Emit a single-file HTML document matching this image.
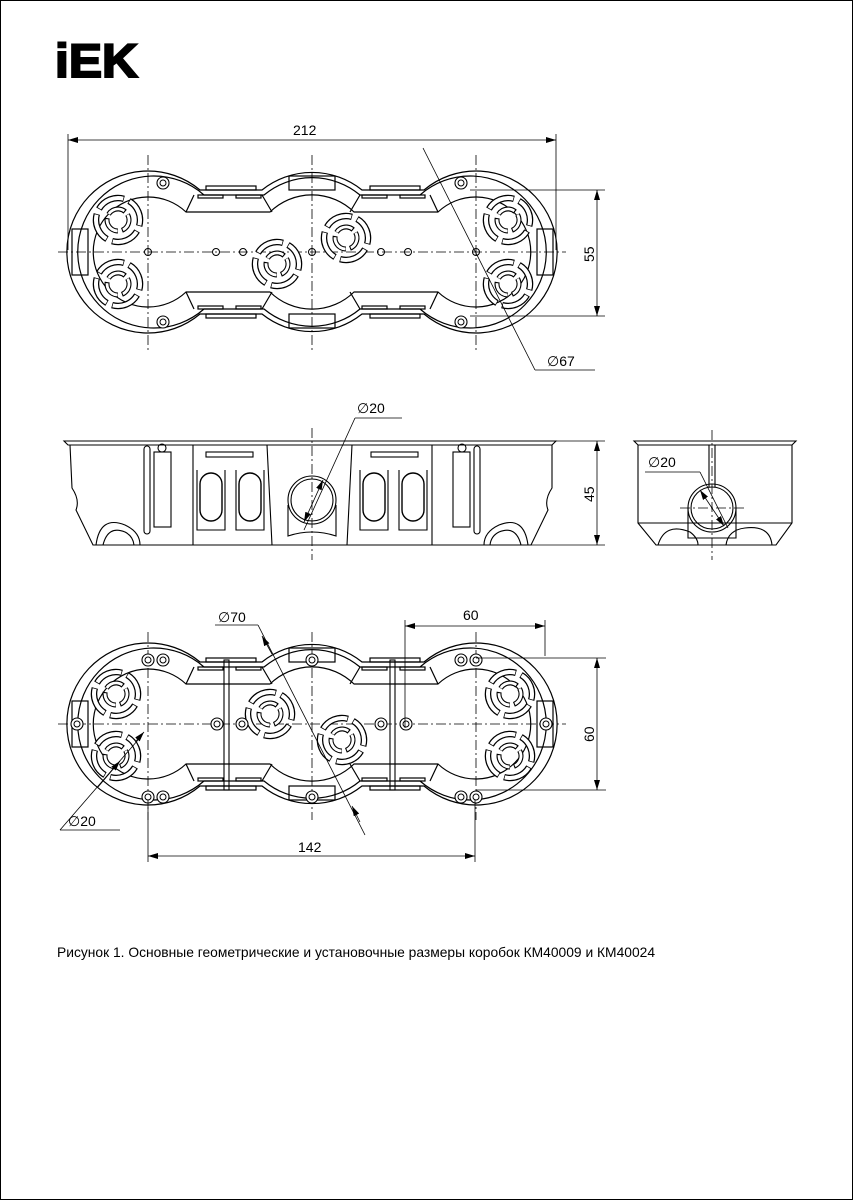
<!DOCTYPE html>
<html><head><meta charset="utf-8"><style>
html,body{margin:0;padding:0;background:#fff}
svg{display:block}
text{font-family:"Liberation Sans",sans-serif;fill:#000}
</style></head><body>
<svg width="853" height="1200" viewBox="0 0 853 1200" xmlns="http://www.w3.org/2000/svg">
<defs>
<marker id="ar" viewBox="0 0 10 6" refX="10" refY="3" markerWidth="10" markerHeight="6" orient="auto-start-reverse" markerUnits="userSpaceOnUse"><path d="M0,0 L10,3 L0,6 z" fill="#000"/></marker>
<g id="ko">
<circle r="22" fill="none" stroke="#000" stroke-width="6.5" stroke-dasharray="29 5.5" transform="rotate(-60)"/>
<circle r="22" fill="none" stroke="#fff" stroke-width="4" stroke-dasharray="27.5 7" transform="rotate(-58)"/>
<circle r="11" fill="none" stroke="#000" stroke-width="5" stroke-dasharray="19 4" transform="rotate(-30)"/>
<circle r="11" fill="none" stroke="#fff" stroke-width="2.8" stroke-dasharray="17.5 5.5" transform="rotate(-28)"/>
</g>
<g id="boss"><circle r="6" fill="#fff" stroke="#000" stroke-width="1.1"/><circle r="3" fill="none" stroke="#000" stroke-width="1"/></g>
<g id="body" fill="none" stroke="#000" stroke-width="1.2">
<path d="M200,190 L262,190 A80,80 0 0 1 362,190 L424,190 A81,81 0 1 1 424,314 L362,314 A80,80 0 0 1 262,314 L200,314 A81,81 0 1 1 200,190 Z" fill="#fff"/>
<path d="M204,195 L264,195 A75,75 0 0 1 360,195 L420,195 A76,76 0 1 1 420,309 L360,309 A75,75 0 0 1 264,309 L204,309 A76,76 0 1 1 204,195 Z"/>
<path d="M186,212 L270,212 A60,60 0 0 1 354,212 L438,212 A55,55 0 1 1 438,292 L354,292 A60,60 0 0 1 270,292 L186,292 A55,55 0 1 1 186,212 Z"/>
<path d="M194,195 L186,212 M262,195 L272,212 M350,212 L360,195 M430,195 L438,212 M194,309 L186,292 M262,309 L272,292 M350,292 L360,309 M430,309 L438,292"/>
<rect x="206" y="186" width="50" height="4"/><rect x="370" y="186" width="50" height="4"/>
<rect x="206" y="314" width="50" height="4"/><rect x="370" y="314" width="50" height="4"/>
<rect x="198" y="195" width="25" height="3"/><rect x="236" y="195" width="25" height="3"/>
<rect x="362" y="195" width="25" height="3"/><rect x="400" y="195" width="25" height="3"/>
<rect x="198" y="306" width="25" height="3"/><rect x="236" y="306" width="25" height="3"/>
<rect x="362" y="306" width="25" height="3"/><rect x="400" y="306" width="25" height="3"/>
<rect x="289" y="176" width="46" height="14"/><rect x="289" y="314" width="46" height="14"/>
<rect x="72" y="229" width="16" height="46"/><rect x="537" y="229" width="16" height="46"/>
</g>
</defs>
<rect x="0.5" y="0.5" width="852" height="1199" fill="#fff" stroke="#000" stroke-width="1"/>
<text x="55" y="77" font-size="47" font-weight="bold" textLength="83" lengthAdjust="spacingAndGlyphs" stroke="#000" stroke-width="2">iEK</text>

<!-- TOP VIEW -->
<g stroke="#000" fill="none">
<use href="#body"/>
<g stroke-width="0.8" stroke-dasharray="10 3 2 3">
<line x1="58" y1="252" x2="566" y2="252"/>
<line x1="148" y1="155" x2="148" y2="350"/><line x1="312" y1="155" x2="312" y2="350"/><line x1="476" y1="155" x2="476" y2="350"/>
</g>
<use href="#ko" x="118" y="220"/><use href="#ko" x="118" y="284"/>
<use href="#ko" x="508" y="220"/><use href="#ko" x="508" y="284"/>
<use href="#ko" x="277" y="264"/><use href="#ko" x="346" y="238"/>
<g stroke-width="1"><circle cx="148" cy="252" r="3.5"/><circle cx="216" cy="252" r="3.5"/><circle cx="243" cy="252" r="3.5"/><circle cx="312" cy="252" r="3.5"/><circle cx="381" cy="252" r="3.5"/><circle cx="408" cy="252" r="3.5"/><circle cx="476" cy="252" r="3.5"/></g>
<use href="#boss" x="163" y="183"/><use href="#boss" x="163" y="322"/><use href="#boss" x="461" y="183"/><use href="#boss" x="461" y="322"/>
<g stroke-width="0.8">
<line x1="68" y1="134" x2="68" y2="250"/><line x1="556" y1="134" x2="556" y2="250"/>
<line x1="68" y1="140" x2="556" y2="140" marker-start="url(#ar)" marker-end="url(#ar)"/>
<line x1="470" y1="190" x2="605" y2="190"/><line x1="470" y1="316" x2="605" y2="316"/>
<line x1="597" y1="190" x2="597" y2="316" marker-start="url(#ar)" marker-end="url(#ar)"/>
<line x1="423" y1="148" x2="535" y2="370"/><line x1="535" y1="370" x2="595" y2="370"/>
</g>
</g>
<text x="293" y="135" font-size="14">212</text>
<text transform="translate(594,262) rotate(-90)" font-size="14">55</text>
<text x="547" y="366" font-size="14">∅67</text>

<!-- SIDE VIEW -->
<g stroke="#000" fill="none" stroke-width="1.1">
<path d="M64,441 L556,441 L552,445 L68,445 Z"/>
<path d="M70,445 L72,488 Q80,500 76,510 L93,545 L531,545 L548,510 Q544,500 552,488 L552,445"/>
<line x1="93" y1="545" x2="531" y2="545"/>
<rect x="144" y="446" width="6" height="88" rx="3"/><rect x="154" y="452" width="17" height="75"/><circle cx="162" cy="448" r="4"/>
<rect x="474" y="446" width="6" height="88" rx="3"/><rect x="453" y="452" width="17" height="75"/><circle cx="462" cy="448" r="4"/>
<path d="M193,445 L193,545 M267,445 L272,545 M352,445 L347,545 M432,445 L432,545"/>
<rect x="206" y="452" width="47" height="5"/><rect x="371" y="452" width="47" height="5"/>
<g stroke-width="1.4">
<rect x="200" y="473" width="22" height="48" rx="11"/><rect x="239" y="473" width="22" height="48" rx="11"/>
<rect x="363" y="473" width="22" height="48" rx="11"/><rect x="402" y="473" width="22" height="48" rx="11"/>
</g>
<path d="M197,470 L197,530 L225,530 L225,470 M236,470 L236,530 L264,530 L264,470 M360,470 L360,530 L388,530 L388,470 M399,470 L399,530 L427,530 L427,470"/>
<circle cx="312" cy="500" r="24"/><circle cx="312" cy="500" r="21"/>
<path d="M288,505 L288,536 Q312,528 336,536 L336,505"/>
<path d="M96,545 Q100,515 125,525 Q140,532 140,545 M103,545 Q108,525 125,532 Q133,536 134,545"/>
<path d="M528,545 Q524,515 499,525 Q484,532 484,545 M521,545 Q516,525 499,532 Q491,536 490,545"/>
<path d="M634,441 L796,441 L792,445 L638,445 Z"/>
<path d="M638,445 L638,523 L656,545 L776,545 L792,523 L792,445 M638,523 L792,523"/>
<path d="M709,445 L709,487 M715,445 L715,487"/>
<circle cx="712" cy="508" r="24"/><circle cx="712" cy="508" r="21"/>
<path d="M688,508 L688,538 L736,538 L736,508"/>
<path d="M658,545 Q665,522 690,532 Q698,538 698,545 M726,545 Q728,530 745,528 Q770,525 772,545"/>
</g>
<g stroke="#000" stroke-width="0.8" fill="none">
<line x1="312" y1="428" x2="312" y2="560" stroke-dasharray="10 3 2 3"/>
<line x1="712" y1="430" x2="712" y2="560" stroke-dasharray="10 3 2 3"/>
<line x1="680" y1="508" x2="745" y2="508" stroke-dasharray="10 3 2 3"/>
<line x1="556" y1="441" x2="605" y2="441"/><line x1="531" y1="545" x2="605" y2="545"/>
<line x1="597" y1="441" x2="597" y2="545" marker-start="url(#ar)" marker-end="url(#ar)"/>
<line x1="355" y1="418" x2="402" y2="418"/><line x1="355" y1="418" x2="304" y2="530"/>
<line x1="323" y1="480" x2="304" y2="522" marker-start="url(#ar)" marker-end="url(#ar)"/>
<line x1="645" y1="472" x2="700" y2="472"/><line x1="700" y1="472" x2="728" y2="528"/>
<line x1="700" y1="490" x2="724" y2="526" marker-start="url(#ar)" marker-end="url(#ar)"/>
</g>
<text x="357" y="413" font-size="14">∅20</text>
<text x="648" y="467" font-size="14">∅20</text>
<text transform="translate(594,502) rotate(-90)" font-size="14">45</text>

<!-- BOTTOM VIEW -->
<g stroke="#000" fill="none">
<use href="#body" y="472"/>
<g stroke-width="0.8" stroke-dasharray="10 3 2 3">
<line x1="58" y1="724" x2="566" y2="724"/>
<line x1="148" y1="632" x2="148" y2="820"/><line x1="312" y1="632" x2="312" y2="820"/><line x1="476" y1="632" x2="476" y2="820"/>
</g>
<use href="#ko" x="116" y="694"/><use href="#ko" x="116" y="756"/>
<use href="#ko" x="510" y="694"/><use href="#ko" x="510" y="756"/>
<use href="#ko" x="270" y="714"/><use href="#ko" x="342" y="740"/>
<g stroke-width="1.1"><rect x="224" y="660" width="5" height="130"/><rect x="390" y="660" width="5" height="130"/></g>
<use href="#boss" x="77" y="724"/><use href="#boss" x="217" y="724"/><use href="#boss" x="242" y="724"/><use href="#boss" x="381" y="724"/><use href="#boss" x="406" y="724"/><use href="#boss" x="546" y="724"/>
<use href="#boss" x="148" y="660"/><use href="#boss" x="163" y="660"/><use href="#boss" x="148" y="797"/><use href="#boss" x="163" y="797"/>
<use href="#boss" x="461" y="660"/><use href="#boss" x="476" y="660"/><use href="#boss" x="461" y="797"/><use href="#boss" x="476" y="797"/>
<use href="#boss" x="312" y="660"/><use href="#boss" x="312" y="797"/>
<g stroke-width="0.8">
<line x1="215" y1="625" x2="258" y2="625"/><line x1="258" y1="625" x2="365" y2="835"/>
<line x1="262" y1="636" x2="272" y2="654" marker-start="url(#ar)"/>
<line x1="352" y1="806" x2="360" y2="822" marker-start="url(#ar)"/>
<line x1="405" y1="620" x2="405" y2="728"/><line x1="545" y1="620" x2="545" y2="656"/>
<line x1="405" y1="626" x2="545" y2="626" marker-start="url(#ar)" marker-end="url(#ar)"/>
<line x1="476" y1="658" x2="606" y2="658"/><line x1="476" y1="790" x2="606" y2="790"/>
<line x1="597" y1="658" x2="597" y2="790" marker-start="url(#ar)" marker-end="url(#ar)"/>
<line x1="148" y1="800" x2="148" y2="862"/><line x1="475" y1="800" x2="475" y2="862"/>
<line x1="148" y1="856" x2="475" y2="856" marker-start="url(#ar)" marker-end="url(#ar)"/>
<line x1="60" y1="830" x2="120" y2="830"/><line x1="60" y1="830" x2="138" y2="740"/>
<line x1="120" y1="761" x2="98" y2="787" marker-start="url(#ar)"/>
<line x1="136" y1="741" x2="144" y2="732" marker-end="url(#ar)"/>
</g>
</g>
<text x="218" y="622" font-size="14">∅70</text>
<text x="463" y="620" font-size="14">60</text>
<text transform="translate(594,742) rotate(-90)" font-size="14">60</text>
<text x="298" y="852" font-size="14">142</text>
<text x="68" y="826" font-size="14">∅20</text>

<text x="57" y="957" font-size="14" textLength="598" lengthAdjust="spacingAndGlyphs">Рисунок 1. Основные геометрические и установочные размеры коробок КМ40009 и КМ40024</text>
</svg>
</body></html>
